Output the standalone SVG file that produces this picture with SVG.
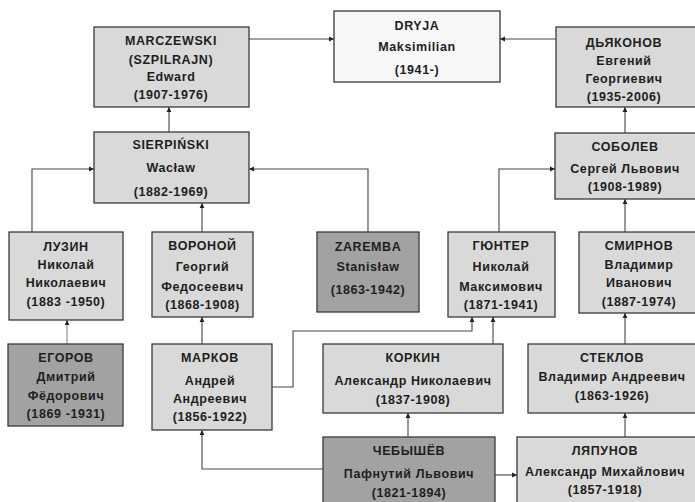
<svg xmlns="http://www.w3.org/2000/svg" width="695" height="502" viewBox="0 0 695 502">
<defs>
<marker id="ah" markerWidth="6" markerHeight="6" refX="5" refY="3" orient="auto" markerUnits="userSpaceOnUse">
<path d="M0,0.6 L5,3 L0,5.4 Z" fill="#222"/>
</marker>
<style>
.bx{stroke:#3a3a3a;stroke-width:1.3}
.lt{fill:#d9d9d9}
.dk{fill:#a2a2a2}
.wh{fill:#f7f7f7}
text{font-family:"Liberation Sans",Arial,sans-serif;font-size:12.5px;font-weight:bold;fill:#1e1e1e;text-anchor:middle;letter-spacing:0.6px}
.c{fill:none;stroke:#444;stroke-width:1.1;marker-end:url(#ah)}
</style>
</defs>
<rect width="695" height="502" fill="#fff"/>
<g id="connectors">
<path class="c" d="M249,39 H334"/>
<path class="c" d="M556,39 H500"/>
<path class="c" d="M169,132 V107"/>
<path class="c" d="M32,232 V169 H94"/>
<path class="c" d="M202,232 V203"/>
<path class="c" d="M368,232 V169 H249"/>
<path class="c" d="M499,232 V169 H555"/>
<path class="c" d="M625,133 V107"/>
<path class="c" d="M625,232 V199"/>
<path class="c" d="M67,344 V320" style="stroke:#888"/>
<path class="c" d="M202,344 V317"/>
<path class="c" d="M272,387 H293 V331 H472 V317"/>
<path class="c" d="M493,344 V317"/>
<path class="c" d="M408,437 V413"/>
<path class="c" d="M625,344 V313"/>
<path class="c" d="M323,469 H202 V430"/>
<path class="c" d="M495,475 H517"/>
<path class="c" d="M625,437 V413"/>
</g>
<g id="marczewski"><rect class="bx lt" x="94" y="27" width="155" height="80"/>
<text x="171" y="45">MARCZEWSKI</text><text x="171" y="64">(SZPILRAJN)</text><text x="171" y="81">Edward</text><text x="171" y="99">(1907-1976)</text></g>
<g id="dryja"><rect class="bx wh" x="334" y="11" width="166" height="71"/>
<text x="417" y="30">DRYJA</text><text x="417" y="51">Maksimilian</text><text x="417" y="74">(1941-)</text></g>
<g id="dyakonov"><rect class="bx lt" x="556" y="27" width="150" height="80"/>
<text x="624" y="47">ДЬЯКОНОВ</text><text x="624" y="65">Евгений</text><text x="624" y="83">Георгиевич</text><text x="624" y="101">(1935-2006)</text></g>
<g id="sierpinski"><rect class="bx lt" x="94" y="132" width="155" height="71"/>
<text x="171" y="149">SIERPIŃSKI</text><text x="171" y="172">Wacław</text><text x="171" y="196">(1882-1969)</text></g>
<g id="luzin"><rect class="bx lt" x="9" y="232" width="114" height="88"/>
<text x="66" y="251">ЛУЗИН</text><text x="66" y="269">Николай</text><text x="66" y="287">Николаевич</text><text x="66" y="306">(1883 -1950)</text></g>
<g id="voronoy"><rect class="bx lt" x="152" y="232" width="101" height="85"/>
<text x="202.5" y="250">ВОРОНОЙ</text><text x="202.5" y="271">Георгий</text><text x="202.5" y="291">Федосеевич</text><text x="202.5" y="309">(1868-1908)</text></g>
<g id="zaremba"><rect class="bx dk" x="317" y="232" width="102" height="80"/>
<text x="368" y="251">ZAREMBA</text><text x="368" y="271">Stanisław</text><text x="368" y="294">(1863-1942)</text></g>
<g id="gunter"><rect class="bx lt" x="448" y="232" width="107" height="85"/>
<text x="501" y="250">ГЮНТЕР</text><text x="501" y="271">Николай</text><text x="501" y="291">Максимович</text><text x="501" y="309">(1871-1941)</text></g>
<g id="sobolev"><rect class="bx lt" x="555" y="133" width="150" height="66"/>
<text x="625" y="151">СОБОЛЕВ</text><text x="625" y="173">Сергей Львович</text><text x="625" y="191">(1908-1989)</text></g>
<g id="smirnov"><rect class="bx lt" x="579" y="232" width="125" height="81"/>
<text x="639" y="250">СМИРНОВ</text><text x="639" y="269">Владимир</text><text x="639" y="287">Иванович</text><text x="639" y="306">(1887-1974)</text></g>
<g id="egorov"><rect class="bx dk" x="8" y="344" width="115" height="82"/>
<text x="66" y="362">ЕГОРОВ</text><text x="66" y="381">Дмитрий</text><text x="66" y="400">Фёдорович</text><text x="66" y="418">(1869 -1931)</text></g>
<g id="markov"><rect class="bx lt" x="152" y="344" width="120" height="86"/>
<text x="210" y="362">МАРКОВ</text><text x="210" y="385">Андрей</text><text x="210" y="403">Андреевич</text><text x="210" y="421">(1856-1922)</text></g>
<g id="korkin"><rect class="bx lt" x="323" y="344" width="180" height="69"/>
<text x="413" y="362">КОРКИН</text><text x="413" y="385">Александр Николаевич</text><text x="413" y="404">(1837-1908)</text></g>
<g id="steklov"><rect class="bx lt" x="528" y="344" width="177" height="69"/>
<text x="612" y="362">СТЕКЛОВ</text><text x="612" y="381">Владимир Андреевич</text><text x="612" y="400">(1863-1926)</text></g>
<g id="chebyshev"><rect class="bx dk" x="323" y="437" width="172" height="70"/>
<text x="409" y="455">ЧЕБЫШЁВ</text><text x="409" y="478">Пафнутий Львович</text><text x="409" y="497">(1821-1894)</text></g>
<g id="lyapunov"><rect class="bx lt" x="517" y="437" width="188" height="70"/>
<text x="605" y="455">ЛЯПУНОВ</text><text x="605" y="476">Александр Михайлович</text><text x="605" y="494">(1857-1918)</text></g>
</svg>
